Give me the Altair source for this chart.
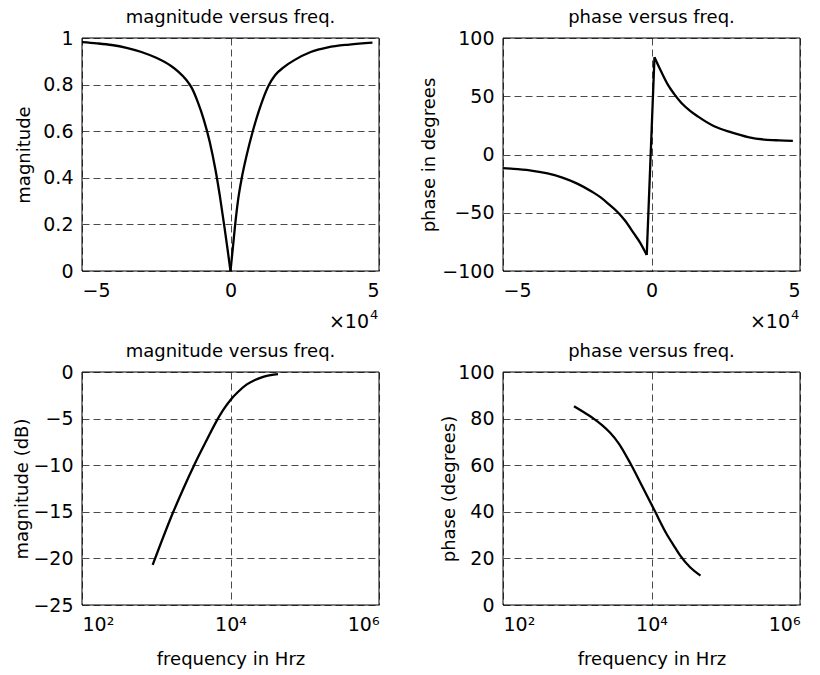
import altair as alt
import pandas as pd

FONT = "DejaVu Sans"
W, H = 297, 233

# ---- top-left: magnitude vs frequency (x in units of 1e4 Hz); branch: 0 = negative side, 1 = positive side
mag_freq = [-5, -4.5, -4, -3.5, -3, -2.5, -2, -1.75, -1.5, -1.3, -1.1, -0.9, -0.7, -0.5, -0.35, -0.2, -0.1, 0,
            0, 0.08, 0.15, 0.25, 0.38, 0.55, 0.75, 0.95, 1.1, 1.28, 1.5, 1.8, 2.15, 2.7, 3.28, 4.0, 4.78]
mag_vals = [0.982, 0.977, 0.970, 0.958, 0.940, 0.915, 0.880, 0.855, 0.822, 0.785, 0.725, 0.650, 0.555, 0.43,
            0.315, 0.185, 0.094, 0.0,
            0.0, 0.10, 0.19, 0.30, 0.40, 0.50, 0.60, 0.685, 0.74, 0.795, 0.84, 0.875, 0.905, 0.94, 0.96,
            0.972, 0.98]
mag_branch = [0] * 18 + [1] * 17

# ---- top-right: phase vs frequency (x in units of 1e4 Hz); branch 1 is the jump through zero
ph_freq = [-5, -4.5, -4, -3.5, -3, -2.5, -2, -1.7, -1.4, -1.12, -0.9, -0.6, -0.4, -0.16,
           -0.16, 0.1,
           0.1, 0.33, 0.56, 0.76, 1.0, 1.3, 1.57, 2.13, 2.69, 3.25, 3.81, 4.3, 4.76]
ph_vals = [-11.7, -12.6, -14.0, -16.3, -19.8, -25.0, -32.0, -37.0, -43.5, -50.0, -56.5, -67.5, -75.0, -86.3,
           -86.3, 83.5,
           83.5, 71.0, 59.5, 52.0, 44.5, 37.5, 32.5, 24.0, 19.0, 15.0, 12.8, 12.1, 11.7]
ph_branch = [0] * 14 + [1] * 2 + [2] * 13

# ---- bottom-left: magnitude (dB) vs frequency (Hz, log axis)
db_freq = [895, 1698, 2291, 3236, 4786, 6457, 7943, 10000, 12589, 16596, 21380, 27542, 34674, 43652]
db_vals = [-20.7, -15.0, -12.6, -10.0, -7.3, -5.3, -4.1, -3.0, -2.15, -1.33, -0.85, -0.52, -0.33, -0.22]

# ---- bottom-right: phase (degrees) vs frequency (Hz, log axis)
pl_freq = [904, 1259, 1660, 2138, 2754, 3631, 5248, 7762, 11220, 15849, 19953, 23988, 33113, 45709]
pl_vals = [85.3, 82.5, 80.0, 77.3, 74.0, 69.3, 60.5, 50.0, 40.0, 30.7, 25.5, 21.5, 16.2, 12.6]

titles = ["magnitude versus freq.", "phase versus freq.", "magnitude versus freq.", "phase versus freq."]
ylabels = ["magnitude", "phase in degrees", "magnitude (dB)", "phase (degrees)"]
xlabel = "frequency in Hrz"
lin_ticks = [-5, 0, 5]
log_ticks = [100, 10000, 1000000]
yticks = [[0, 0.2, 0.4, 0.6, 0.8, 1],
          [-100, -50, 0, 50, 100],
          [-25, -20, -15, -10, -5, 0],
          [0, 20, 40, 60, 80, 100]]
yformats = [".1~f", "d", "d", "d"]
ydomains = [[0, 1], [-100, 100], [-25, 0], [0, 100]]
ytitle_x = [-58, -74, -60, -54]

common_axis = dict(
    labelFont=FONT, labelFontSize=19, labelColor="black",
    titleFont=FONT, titleFontSize=18, titleFontWeight="normal", titleColor="black",
    domain=False, ticks=False, tickSize=0,
    grid=True, gridColor="#4a4a4a", gridDash=[7, 4], gridWidth=1,
)


def panel(freq, vals, idx, branch=None, log=False, exponent=False):
    df = pd.DataFrame({"f": freq, "v": vals, "b": branch if branch is not None else [0] * len(freq)})
    if log:
        xscale = alt.Scale(type="log", domain=[100, 1000000], nice=False)
        xaxis = alt.Axis(values=log_ticks, title=xlabel, labelPadding=10,
                         labelExpr="datum.value < 1000 ? '10²' : (datum.value < 100000 ? '10⁴' : '10⁶')",
                         titleX=W / 2, titleY=59, titleBaseline="alphabetic", titleAlign="center",
                         **common_axis)
    else:
        xscale = alt.Scale(domain=[-5, 5], nice=False, zero=False)
        xaxis = alt.Axis(values=lin_ticks, format="d", title=None, labelPadding=10, **common_axis)
    yaxis = alt.Axis(values=yticks[idx], format=yformats[idx], title=ylabels[idx], labelPadding=9,
                     titleX=ytitle_x[idx], titleY=H / 2, titleAngle=270, titleAlign="center",
                     titleBaseline="middle", **common_axis)
    line = alt.Chart(df).mark_line(color="black", strokeWidth=2.3, interpolate="monotone").encode(
        x=alt.X("f:Q", scale=xscale, axis=xaxis),
        y=alt.Y("v:Q", scale=alt.Scale(domain=ydomains[idx], nice=False, zero=False), axis=yaxis),
        detail="b:N",
    )
    box_df = pd.DataFrame({"k": [0]})
    box = alt.Chart(box_df).mark_rect(filled=False, stroke="black", strokeWidth=1).encode(
        x=alt.value(0), x2=alt.value(W), y=alt.value(0), y2=alt.value(H)
    )
    layers = [line, box]
    if exponent:
        t1 = alt.Chart(box_df).mark_text(font=FONT, fontSize=19, align="right", baseline="alphabetic",
                                         color="black").encode(
            x=alt.value(W - 10), y=alt.value(H + 57), text=alt.value("×10"))
        t2 = alt.Chart(box_df).mark_text(font=FONT, fontSize=13, align="left", baseline="alphabetic",
                                         color="black").encode(
            x=alt.value(W - 9), y=alt.value(H + 48), text=alt.value("4"))
        layers += [t1, t2]
    return alt.layer(*layers).properties(
        width=W, height=H,
        title=alt.TitleParams(titles[idx], font=FONT, fontSize=18, fontWeight="normal", color="black",
                              offset=-12, baseline="alphabetic", anchor="middle", frame="group"),
    )


tl = panel(mag_freq, mag_vals, 0, branch=mag_branch, exponent=True)
tr = panel(ph_freq, ph_vals, 1, branch=ph_branch, exponent=True)
bl = panel(db_freq, db_vals, 2, log=True)
br = panel(pl_freq, pl_vals, 3, log=True)

chart = alt.concat(tl, tr, bl, br, columns=2, spacing={"row": 101, "column": 124}, bounds="flush").properties(
    padding={"left": 5, "top": 1, "right": 5, "bottom": 5}
).configure_view(stroke=None)

chart.save("out.html", embed_options={"renderer": "svg", "actions": False})
